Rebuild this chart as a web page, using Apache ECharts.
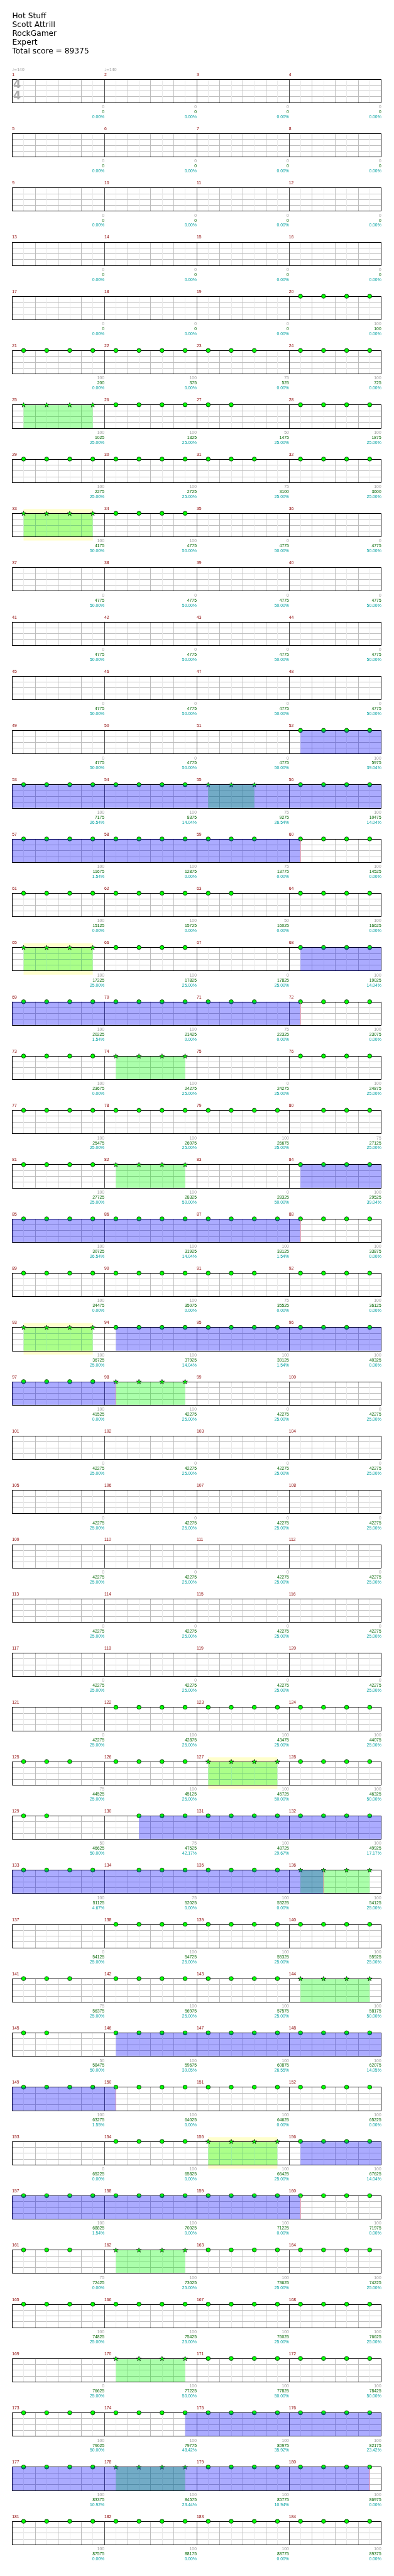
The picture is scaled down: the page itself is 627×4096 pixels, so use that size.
<!DOCTYPE html>
<html><head><meta charset="utf-8">
<script src="https://cdn.jsdelivr.net/npm/echarts@6/dist/echarts.min.js"></script>
<style>html,body{margin:0;padding:0;background:#fff}#c{width:627px;height:4096px}</style>
</head><body><div id="c"></div>
<script>
const titleLines = ['Hot Stuff', 'Scott Attrill', 'RockGamer', 'Expert', 'Total score = 89375'];
const tempoMarks = [[1, 140], [2, 140]];
const timeSignature = ['4', '4'];

// notes per measure: digits = note slots at beats 0.5,1.5,2.5,3.5
const measureNotes = [
'','','','', '','','','', '','','','', '','','','',
'','','','0123', '0123','0123','012','0123', '0123','0123','01','0123', '0123','0123','012','0123',
'0123','0123','','', '','','','', '','','','', '','','','',
'','','','0123', '0123','0123','012','0123', '0123','0123','012','0123', '0123','0123','01','0123',
'0123','0123','','0123', '0123','0123','012','0123', '0123','0123','','0123', '0123','0123','0123','123',
'0123','0123','','0123', '0123','0123','0123','0123', '0123','0123','012','0123', '0123','0123','0123','0123',
'0123','0123','','', '','','','', '','','','', '','','','',
'','','','', '','','','', '','0123','0123','0123', '012','0123','0123','0123',
'01','123','0123','0123', '0123','123','0123','0123', '','0123','0123','0123', '012','0123','0123','0123',
'01','0123','0123','0123', '0123','0123','0123','0123', '','0123','0123','0123', '0123','0123','0123','0123',
'012','0123','0123','0123', '0123','0123','0123','0123', '','0123','0123','0123', '0123','0123','0123','0123',
'0123','0123','0123','0123', '0123','0123','0123','0123'
];
const measureScore = [
0,0,0,0, 0,0,0,0, 0,0,0,0, 0,0,0,0,
0,0,0,100, 100,100,75,100, 100,100,50,100, 100,100,75,100,
100,100,0,0, 0,0,0,0, 0,0,0,0, 0,0,0,0,
0,0,0,100, 100,100,75,100, 100,100,75,100, 100,100,50,100,
100,100,0,100, 100,100,75,100, 100,100,0,100, 100,100,100,75,
100,100,0,100, 100,100,100,100, 100,100,75,100, 100,100,100,100,
100,100,0,0, 0,0,0,0, 0,0,0,0, 0,0,0,0,
0,0,0,0, 0,0,0,0, 0,100,100,100, 75,100,100,100,
50,75,100,100, 100,75,100,100, 0,100,100,100, 75,100,100,100,
50,100,100,100, 100,100,100,100, 0,100,100,100, 100,100,100,100,
75,100,100,100, 100,100,100,100, 0,100,100,100, 100,100,100,100,
100,100,100,100, 100,100,100,100
];
const cumScore = [
0,0,0,0, 0,0,0,0, 0,0,0,0, 0,0,0,0,
0,0,0,100, 200,375,525,725, 1025,1325,1475,1875, 2275,2725,3100,3600,
4175,4775,4775,4775, 4775,4775,4775,4775, 4775,4775,4775,4775, 4775,4775,4775,4775,
4775,4775,4775,5975, 7175,8375,9275,10475, 11675,12875,13775,14525, 15125,15725,16025,16625,
17225,17825,17825,19025, 20225,21425,22325,23075, 23675,24275,24275,24875, 25475,26075,26675,27125,
27725,28325,28325,29525, 30725,31925,33125,33875, 34475,35075,35525,36125, 36725,37925,39125,40325,
41525,42275,42275,42275, 42275,42275,42275,42275, 42275,42275,42275,42275, 42275,42275,42275,42275,
42275,42275,42275,42275, 42275,42275,42275,42275, 42275,42875,43475,44075, 44525,45125,45725,46325,
46625,47525,48725,49925, 51125,52025,53225,54125, 54125,54725,55325,55925, 56375,56975,57575,58175,
58475,59675,60875,62075, 63275,64025,64625,65225, 65225,65825,66425,67625, 68825,70025,71225,71975,
72425,73025,73625,74225, 74825,75425,76025,76625, 76625,77225,77825,78425, 79025,79775,80975,82175,
83375,84575,85775,86975, 87575,88175,88775,89375
];
const percentLabels = [
0,0,0,0, 0,0,0,0, 0,0,0,0, 0,0,0,0,
0,0,0,0, 0,0,0,0, 25,25,25,25, 25,25,25,25,
50,50,50,50, 50,50,50,50, 50,50,50,50, 50,50,50,50,
50,50,50,39.04, 26.54,14.04,26.54,14.04, 1.54,0,0,0, 0,0,0,0,
25,25,25,14.04, 1.54,0,0,0, 0,25,25,25, 25,25,25,25,
25,50,50,39.04, 26.54,14.04,1.54,0, 0,0,0,0, 25,14.04,1.54,0,
0,25,25,25, 25,25,25,25, 25,25,25,25, 25,25,25,25,
25,25,25,25, 25,25,25,25, 25,25,25,25, 25,25,50,50,
50,42.17,29.67,17.17, 4.67,0,0,25, 25,25,25,25, 25,25,25,50,
50,39.05,26.55,14.05, 1.55,0,0,0, 0,0,25,14.04, 1.54,0,0,0,
0,25,25,25, 25,25,25,25, 25,50,50,50, 50,48.42,35.92,23.42,
10.92,23.44,10.94,0, 0,0,0,0
];
// overdrive phrases: [measure, fromBeat, toBeat]
const odPhrases = [[25,0.5,3.5],[33,0.5,3.5],[55,0.5,2.5],[65,0.5,3.5],[74,0.5,3.5],[82,0.5,3.5],[93,0.5,3.5],
  [98,0.5,3.5],[127,0.5,3.5],[136,0.5,3.5],[144,0.5,3.5],[155,0.5,3.5],[162,0.5,3.5],[170,0.5,3.5],[178,0.5,3.5]];
const highlightPhrases = [33, 65, 93, 127, 155];
// activations: [startMeasure, startBeat, endMeasure, endBeat]
const activations = [[52,0.5,60,0.5],[68,0.5,72,0.5],[84,0.5,88,0.5],[94,0.5,98,0.5],
  [130,1.5,136,1.5],[146,0.5,150,0.5],[156,0.5,160,0.5],[174,3.5,180,3.5]];

const S = 0.612;
const LEFT = 31.3 * S, STAFF_W = 960 * S, TOP0 = 205.7 * S, ROW_H = 141 * S, STAFF_H = 60.7 * S;
const nM = measureNotes.length, nRows = Math.ceil(nM / 4);
const mb = (m, b) => (m - 1) * 4 + b;
const noteBeats = [];
measureNotes.forEach((s, i) => { for (const ch of s) noteBeats.push(i * 4 + (+ch) + 0.5); });
const phraseR = odPhrases.map(p => [mb(p[0], p[1]), mb(p[0], p[2])]);
const hlR = phraseR.filter((r, i) => highlightPhrases.includes(odPhrases[i][0]));
const actR = activations.map(a => [mb(a[0], a[1]), mb(a[2], a[3])]);
const isStar = b => phraseR.some(r => b >= r[0] - 1e-6 && b <= r[1] + 1e-6);
const clipR = (R, lo, hi) => R.filter(r => r[1] > lo && r[0] < hi).map(r => [Math.max(r[0], lo), Math.min(r[1], hi)]);
const STAR = 'path://M50 0 L61.76 33.82 L97.55 34.55 L69.02 56.18 L79.39 90.45 L50 70 L20.61 90.45 L30.98 56.18 L2.45 34.55 L38.24 33.82 Z';
const px = v => { const d = Math.round(v * 2); return (d + 1) % 2 === 0 ? d / 2 : (d + 1) / 2; };

function rectRender(extraTop, extraBottom, fill) {
  return function (params, api) {
    const a = api.coord([api.value(0), 4]), b = api.coord([api.value(1), 0]);
    return { type: 'rect', shape: { x: a[0], y: a[1] - extraTop, width: b[0] - a[0], height: b[1] - a[1] + extraTop + extraBottom }, style: { fill: fill } };
  };
}
const FS = 6.8, LH = 13 * S;
const BEAT_C = '#bdbdbd', BAR_C = '#4a4a4a';
const grid = [], xAxis = [], yAxis = [], series = [];
for (let r = 0; r < nRows; r++) {
  const lo = r * 16, hi = lo + 16;
  grid.push({ left: LEFT, top: TOP0 + r * ROW_H, width: STAFF_W, height: STAFF_H, show: false });
  xAxis.push({
    type: 'value', gridIndex: r, min: lo, max: hi, interval: 1, z: 2,
    axisLine: { show: false }, axisTick: { show: false },
    splitLine: { show: true, showMinLine: true, showMaxLine: true, lineStyle: { color: [BAR_C, BEAT_C, BEAT_C, BEAT_C], width: 1 } },
    minorTick: { show: false, splitNumber: 2 },
    minorSplitLine: { show: true, lineStyle: { color: '#eaeaea', width: 1 } },
    axisLabel: {
      show: true, margin: 3.1, align: 'right', verticalAlign: 'top', showMinLabel: false,
      formatter: v => { const k = Math.round(v); if (k % 4 !== 0 || k === lo) return ''; const i = k / 4 - 1;
        return '{g|' + measureScore[i] + '}\n{c|' + cumScore[i] + '}\n{p|' + percentLabels[i].toFixed(2) + '%}'; },
      rich: {
        g: { color: '#a0a0a0', fontSize: FS, lineHeight: LH, fontFamily: 'Liberation Sans', align: 'right' },
        c: { color: '#006400', fontSize: FS, lineHeight: LH, fontFamily: 'Liberation Sans', align: 'right' },
        p: { color: '#00a0a0', fontSize: FS, lineHeight: LH, fontFamily: 'Liberation Sans', align: 'right' }
      }
    }
  });
  xAxis.push({
    type: 'value', gridIndex: r, position: 'top', min: lo, max: hi, interval: 4, z: 2,
    axisLine: { show: false }, axisTick: { show: false }, splitLine: { show: false },
    axisLabel: {
      show: true, margin: 3.2, align: 'left', verticalAlign: 'bottom', showMaxLabel: false,
      formatter: v => { const k = Math.round(v); if (k >= hi) return ''; const m = k / 4 + 1;
        const t = tempoMarks.find(q => q[0] === m);
        return (t ? '{t|\u2669=' + t[1] + '}\n' : '') + '{m|' + m + '}'; },
      rich: {
        m: { color: '#8b0000', fontSize: 6.8, lineHeight: LH, fontFamily: 'Liberation Sans', align: 'left' },
        t: { color: '#a0a0a0', fontSize: 6.8, lineHeight: LH, fontFamily: 'DejaVu Sans Condensed, DejaVu Sans', align: 'left' }
      }
    }
  });
  yAxis.push({
    type: 'value', gridIndex: r, min: 0, max: 4, interval: 1, z: 2,
    axisLine: { show: false }, axisTick: { show: false }, axisLabel: { show: false },
    splitLine: { show: true, lineStyle: { color: BEAT_C, width: 1 } }
  });
  const xi = 2 * r, yi = r;
  series.push({ type: 'custom', xAxisIndex: xi, yAxisIndex: yi, z: 1, clip: false, silent: true,
    renderItem: rectRender(11 * S, 10 * S, '#ffffcc'), data: clipR(hlR, lo, hi) });
  series.push({ type: 'custom', xAxisIndex: xi, yAxisIndex: yi, z: 3, clip: false, silent: true,
    renderItem: rectRender(0, 0, 'rgba(0,255,0,0.33)'), data: clipR(phraseR, lo, hi) });
  series.push({ type: 'custom', xAxisIndex: xi, yAxisIndex: yi, z: 3.5, clip: false, silent: true,
    renderItem: function (params, api) {
      const a = api.coord([api.value(0), 4]), b = api.coord([api.value(1), 0]);
      const x0 = px(a[0]), y0 = px(a[1]), x1 = px(b[0]), y1 = px(b[1]);
      return { type: 'rect', shape: { x: x0, y: y0, width: x1 - x0, height: y1 - y0 }, style: { fill: null, stroke: '#000', lineWidth: 1 } };
    }, data: [[lo, hi]] });
  const nb = noteBeats.filter(b => b >= lo && b < hi);
  series.push({ type: 'scatter', xAxisIndex: xi, yAxisIndex: yi, z: 4, clip: false, silent: true,
    symbol: 'circle', symbolSize: 6.6,
    itemStyle: { color: '#00ff00', borderColor: '#000', borderWidth: 0.7, opacity: 1 },
    data: nb.filter(b => !isStar(b)).map(b => [b, 4]) });
  series.push({ type: 'scatter', xAxisIndex: xi, yAxisIndex: yi, z: 4, clip: false, silent: true,
    symbol: STAR, symbolSize: [7.6, 7.2],
    itemStyle: { color: '#00ff00', borderColor: '#000', borderWidth: 0.6, opacity: 1 },
    data: nb.filter(b => isStar(b)).map(b => [b, 4]) });
  series.push({ type: 'custom', xAxisIndex: xi, yAxisIndex: yi, z: 5, clip: false, silent: true,
    renderItem: rectRender(0, 0, 'rgba(0,0,255,0.33)'), data: clipR(actR, lo, hi) });
  series.push({ type: 'custom', xAxisIndex: xi, yAxisIndex: yi, z: 5.5, clip: false, silent: true,
    renderItem: function (params, api) {
      const a = api.coord([api.value(0), 4]), b = api.coord([api.value(0), 0]);
      return { type: 'line', shape: { x1: a[0], y1: a[1] + 0.5, x2: b[0], y2: b[1] - 0.5 }, style: { stroke: '#ff8c8c', lineWidth: 0.8 } };
    }, data: actR.filter(q => q[1] > lo && q[1] <= hi).map(q => [q[1]]) });
  if (r === 0) {
    series.push({ type: 'custom', xAxisIndex: xi, yAxisIndex: yi, z: 3.6, clip: false, silent: true,
      renderItem: function (params, api) {
        const p = api.coord([api.value(0), api.value(1)]);
        return { type: 'text', x: p[0], y: p[1], style: { text: timeSignature[params.dataIndex], fill: '#ababab',
          fontSize: 19, fontWeight: 'bold', fontFamily: 'DejaVu Sans Condensed, DejaVu Sans', align: 'center', verticalAlign: 'middle' } };
      }, data: [[0.22, 3.0], [0.22, 1.03]] });
  }
}
const chart = echarts.init(document.getElementById('c'), null, { renderer: 'canvas' });
chart.setOption({
  animation: false,
  backgroundColor: '#fff',
  title: { text: titleLines.join('\n'), left: 19.4, top: 18.9, padding: 0,
    textStyle: { fontFamily: 'DejaVu Sans', fontSize: 12.24, fontWeight: 'normal', color: '#000', lineHeight: 14.08 } },
  grid, xAxis, yAxis, series
});
</script></body></html>
